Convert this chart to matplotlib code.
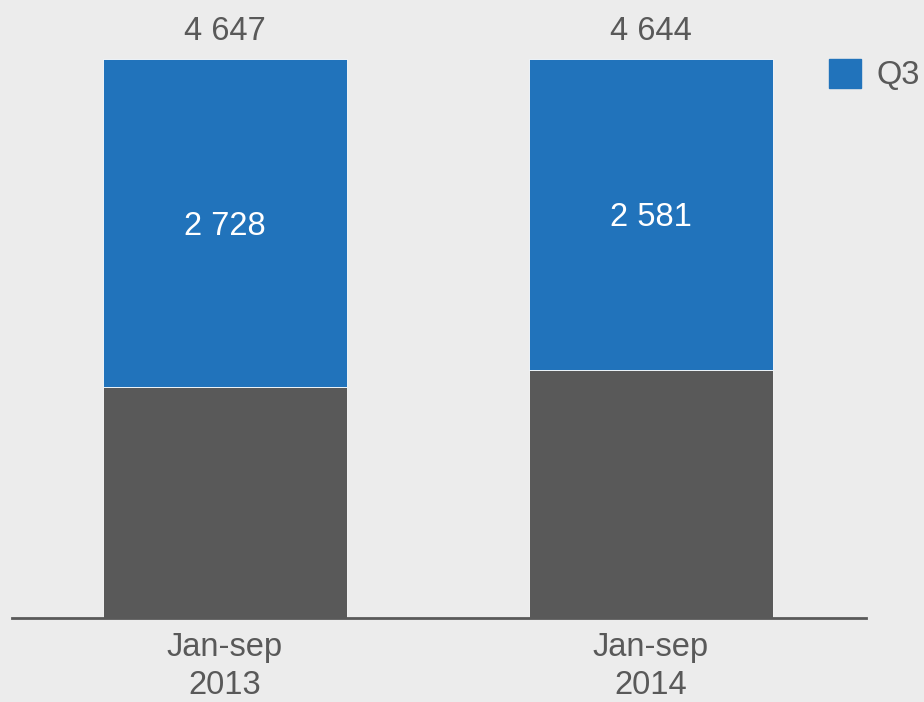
import matplotlib.pyplot as plt
from matplotlib.patches import Rectangle

categories = ["Jan-sep\n2013", "Jan-sep\n2014"]
q3 = [2728, 2581]
totals = [4647, 4644]
rest = [t - q for t, q in zip(totals, q3)]

BG = "#ececec"
BLUE = "#2173bb"
GREY = "#595959"
TXT = "#595959"
FS = 23.5

plt.rcParams["font.family"] = ["Liberation Sans", "DejaVu Sans"]

fig = plt.figure(figsize=(9.24, 7.02), dpi=100, facecolor=BG)
ax = fig.add_axes([12 / 924, 84 / 702, 854 / 924, 618 / 702], facecolor=BG)

x = range(len(categories))
w = 0.573
ax.bar(x, rest, width=w, color=GREY, edgecolor="white", linewidth=0.6)
ax.bar(x, q3, width=w, bottom=rest, color=BLUE, edgecolor="white", linewidth=0.6)

for i in x:
    # label sits a touch below the segment centre, as in the original
    ax.text(i, rest[i] + q3[i] / 2 - 25, f"{q3[i]:,}".replace(",", " "),
            ha="center", va="center", color="white", fontsize=FS)
    ax.text(i, totals[i] + 158, f"{totals[i]:,}".replace(",", " "),
            ha="center", va="baseline", color=TXT, fontsize=FS)

ax.set_xlim(-0.5, 1.505)
ax.set_ylim(0, 618 / 559 * 4647)
ax.set_xticks(list(x))
ax.set_xticklabels(categories, fontsize=FS, color=TXT, linespacing=1.3)
ax.tick_params(axis="x", length=0, pad=10)
ax.set_yticks([])
for s in ["top", "right", "left"]:
    ax.spines[s].set_visible(False)
ax.spines["bottom"].set_color(GREY)
ax.spines["bottom"].set_linewidth(2)

# legend
fig.patches.append(Rectangle((829 / 924, 1 - 88 / 702), 32 / 924, 29 / 702,
                             transform=fig.transFigure, color=BLUE))
fig.text(877 / 924, 1 - 75 / 702, "Q3", ha="left", va="center", color=TXT, fontsize=FS)

fig.savefig("out.png", dpi=100, facecolor=BG)
